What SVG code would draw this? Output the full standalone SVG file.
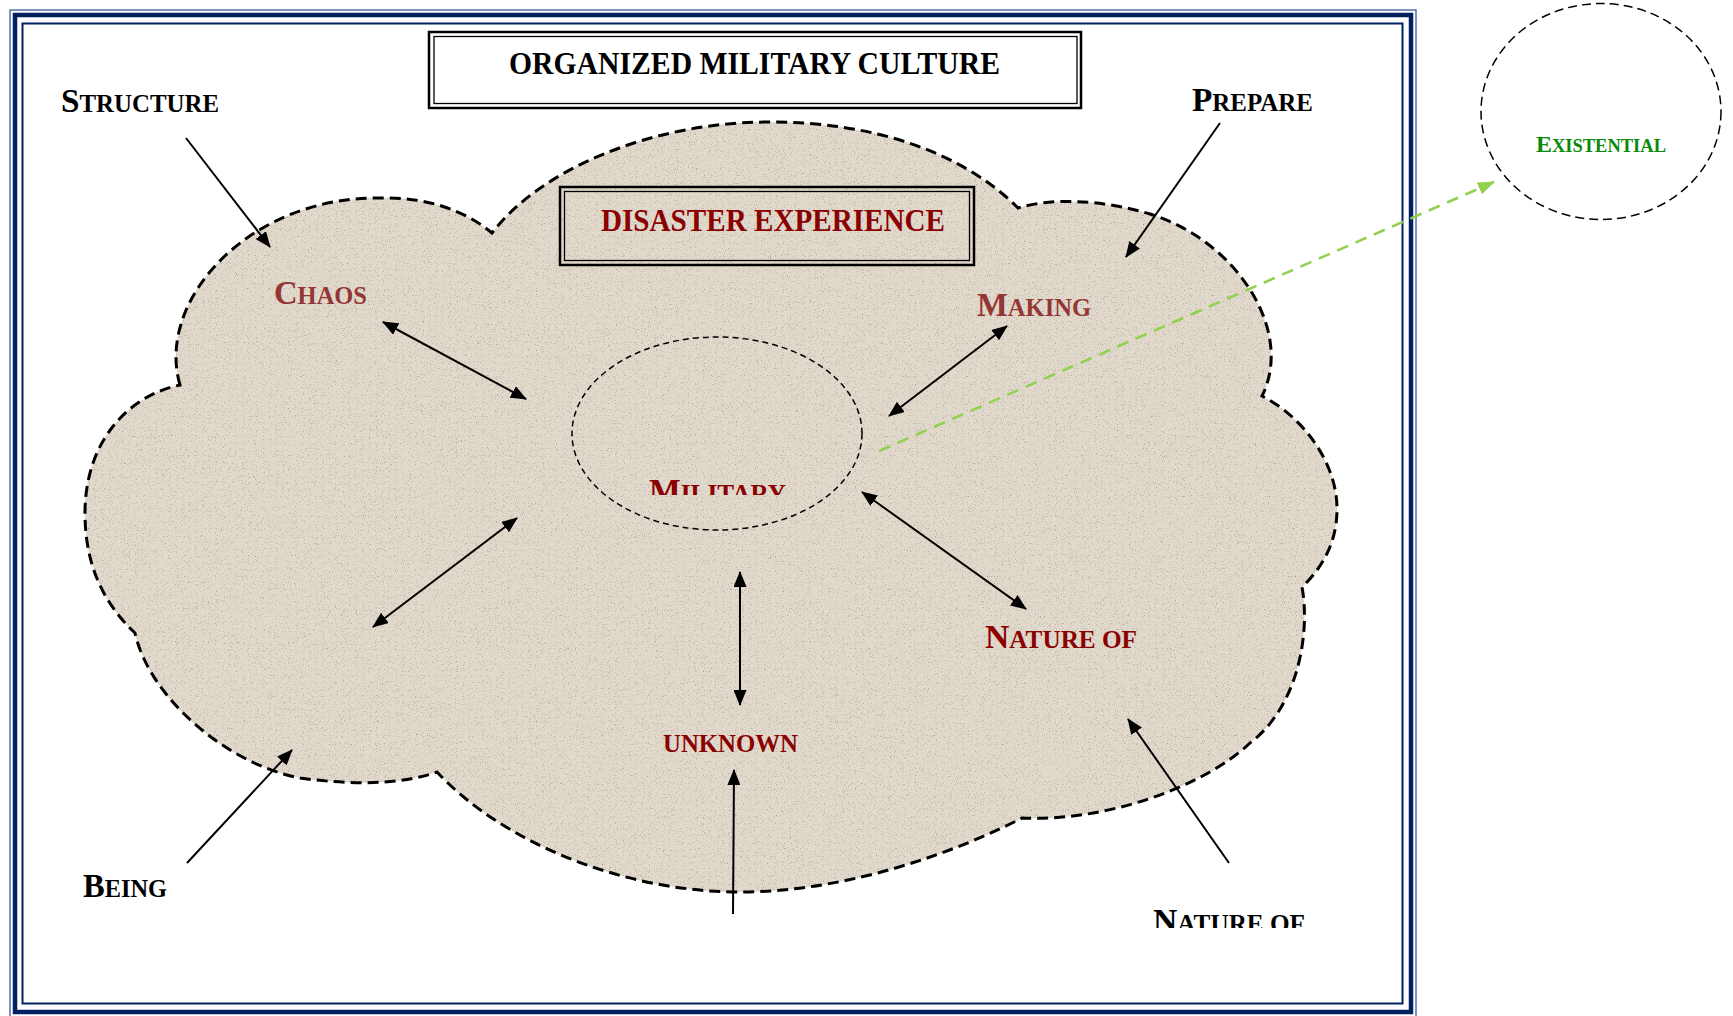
<svg xmlns="http://www.w3.org/2000/svg" width="1733" height="1016" viewBox="0 0 1733 1016">
<style>
  .lbl { font-family: "Liberation Serif", "Times New Roman", serif; font-weight: bold; }
  .blk { fill: #000; }
  .brn { fill: #943634; }
  .red { fill: #8b0000; }
  .grn { fill: #0a8a0a; }
  .conn { stroke: #000; stroke-width: 2; fill: none; }
  .bi { marker-start: url(#ah); marker-end: url(#ah); }
  .uni { marker-end: url(#ah); }
  .green { stroke: #92d050; stroke-width: 2.6; stroke-dasharray: 12 8; fill: none; marker-end: url(#ahg); }
</style>
<defs>
  <marker id="ah" viewBox="0 0 16 13" refX="15" refY="6.5" markerWidth="16" markerHeight="13" markerUnits="userSpaceOnUse" orient="auto-start-reverse">
    <path d="M0,0 L16,6.5 L0,13 z" fill="#000"/>
  </marker>
  <marker id="ahg" viewBox="0 0 17 13" refX="16" refY="6.5" markerWidth="17" markerHeight="13" markerUnits="userSpaceOnUse" orient="auto">
    <path d="M0,0 L17,6.5 L0,13 z" fill="#92d050"/>
  </marker>
  <filter id="grain" x="0%" y="0%" width="100%" height="100%" color-interpolation-filters="sRGB">
    <feTurbulence type="fractalNoise" baseFrequency="0.85" numOctaves="2" seed="7" result="noise"/>
    <feColorMatrix in="noise" type="matrix" values="0 0 0 0 0.55  0 0 0 0 0.5  0 0 0 0 0.44  2.4 0 0 0 -1.4" result="specks"/>
    <feComposite in="specks" in2="SourceGraphic" operator="in" result="specksIn"/>
    <feMerge><feMergeNode in="SourceGraphic"/><feMergeNode in="specksIn"/></feMerge>
  </filter>
  <clipPath id="clipMil"><rect x="600" y="440" width="260" height="55"/></clipPath>
  <clipPath id="clipNat"><rect x="1100" y="880" width="260" height="48"/></clipPath>
  <path id="cloudShape" d="M180,385 C155,300 250,195 383,198 C425,197 465,210 492,233 C540,170 650,122 770,122 C870,122 960,150 1018,208 C1050,198 1100,199 1150,214 C1235,240 1295,330 1262,396 C1300,415 1337,460 1337,509 C1337,545 1320,570 1302,587 C1310,630 1300,705 1250,743 C1200,790 1100,822 1022,818 C960,850 850,892 740,892 C620,892 500,840 437,772 C400,785 350,785 300,778 C230,765 150,700 135,633 C100,600 85,560 85,513 C85,440 130,395 180,385 Z"/>
</defs>

<rect x="0" y="0" width="1733" height="1016" fill="#fff"/>

<!-- page frame -->
<g id="frame" fill="none">
  <rect x="10" y="10" width="1406" height="1008" stroke="#3a5a9a" stroke-width="1.3"/>
  <rect x="15" y="15" width="1396" height="997" stroke="#002060" stroke-width="4.5"/>
  <rect x="22.5" y="23.5" width="1380" height="980" stroke="#002060" stroke-width="2"/>
</g>

<!-- cloud -->
<g id="cloud">
  <use href="#cloudShape" fill="#e1d9cc" filter="url(#grain)"/>
  <use href="#cloudShape" fill="none" stroke="#000" stroke-width="3" stroke-dasharray="11 6"/>
</g>

<g id="title">
  <rect x="429" y="32" width="652" height="76" fill="#fff" stroke="#000" stroke-width="2.5"/>
  <rect x="434" y="36.5" width="643" height="67" fill="none" stroke="#000" stroke-width="1.3"/>
  <text class="lbl blk" x="509" y="74" font-size="31.4" textLength="491" lengthAdjust="spacingAndGlyphs">ORGANIZED MILITARY CULTURE</text>
</g>

<g id="disaster">
  <rect x="560" y="187" width="414" height="78" fill="none" stroke="#000" stroke-width="2.5"/>
  <rect x="564.5" y="191.5" width="405" height="69" fill="none" stroke="#000" stroke-width="1.3"/>
  <text class="lbl red" x="601" y="231" font-size="31" textLength="344" lengthAdjust="spacingAndGlyphs">DISASTER EXPERIENCE</text>
</g>

<g id="military">
  <ellipse cx="717" cy="433.5" rx="145" ry="96.5" fill="none" stroke="#000" stroke-width="1.5" stroke-dasharray="6 4"/>
  <text class="lbl red" x="649" y="502" font-size="25.5" textLength="137" lengthAdjust="spacingAndGlyphs" clip-path="url(#clipMil)"><tspan font-size="34">M</tspan>ILITARY</text>
</g>

<g id="existential">
  <ellipse cx="1601" cy="111.5" rx="120" ry="108" fill="none" stroke="#000" stroke-width="1.5" stroke-dasharray="9 5"/>
  <text class="lbl grn" x="1536" y="152" font-size="18.5" textLength="130" lengthAdjust="spacingAndGlyphs"><tspan font-size="24">E</tspan>XISTENTIAL</text>
</g>

<g id="structure"><text class="lbl blk" x="61" y="112" font-size="25.5" textLength="158" lengthAdjust="spacingAndGlyphs"><tspan font-size="34">S</tspan>TRUCTURE</text></g>
<g id="prepare"><text class="lbl blk" x="1192" y="111" font-size="25.5" textLength="121" lengthAdjust="spacingAndGlyphs"><tspan font-size="34">P</tspan>REPARE</text></g>
<g id="chaos"><text class="lbl brn" x="274" y="304" font-size="25.5" textLength="93" lengthAdjust="spacingAndGlyphs"><tspan font-size="34">C</tspan>HAOS</text></g>
<g id="making"><text class="lbl brn" x="977" y="316" font-size="25.5" textLength="114" lengthAdjust="spacingAndGlyphs"><tspan font-size="34">M</tspan>AKING</text></g>
<g id="nature-inner"><text class="lbl red" x="985" y="648" font-size="25.5" textLength="152" lengthAdjust="spacingAndGlyphs"><tspan font-size="34">N</tspan>ATURE OF</text></g>
<g id="unknown"><text class="lbl red" x="663" y="752" font-size="25.5" textLength="135" lengthAdjust="spacingAndGlyphs">UNKNOWN</text></g>
<g id="being"><text class="lbl blk" x="83" y="897" font-size="25.5" textLength="84" lengthAdjust="spacingAndGlyphs"><tspan font-size="34">B</tspan>EING</text></g>
<g id="nature-outer"><text class="lbl blk" x="1153" y="932" font-size="25.5" textLength="152" lengthAdjust="spacingAndGlyphs" clip-path="url(#clipNat)"><tspan font-size="34">N</tspan>ATURE OF</text></g>

<g id="connectors">
  <path class="conn uni" d="M186,138 L270,247"/>
  <path class="conn uni" d="M1220,123 L1126,257"/>
  <path class="conn uni" d="M187,863 L292,750"/>
  <path class="conn uni" d="M1229,863 L1128,719"/>
  <path class="conn uni" d="M733,914 L734,770"/>
  <path class="conn bi" d="M383,322 L526,399"/>
  <path class="conn bi" d="M517,518 L373,627"/>
  <path class="conn bi" d="M1007,326 L889,416"/>
  <path class="conn bi" d="M862,492 L1026,609"/>
  <path class="conn bi" d="M740,572 L740,705"/>
  <path class="green" d="M879,451 L1494,182"/>
</g>
</svg>
